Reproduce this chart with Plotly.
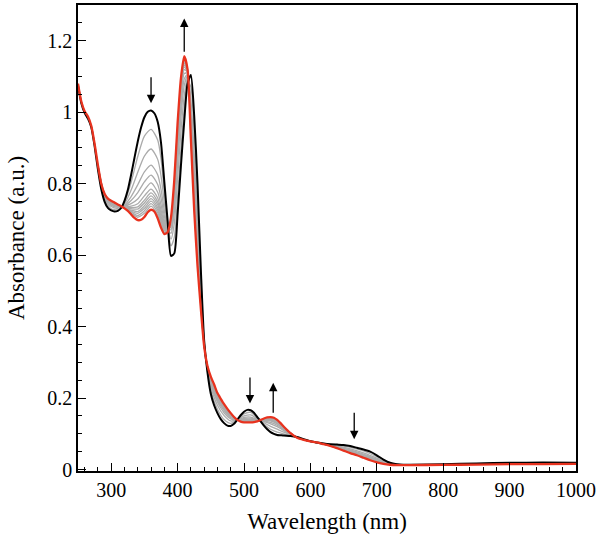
import plotly.graph_objects as go

# ---------------- data ----------------
wavelength = [250, 255, 260, 265, 270, 275, 280, 285, 290, 295, 300, 305, 310, 315, 320, 325, 330, 335, 340, 345,
              350, 355, 360, 365, 370, 375, 380, 385, 390, 395, 400, 405, 410, 415, 420, 425, 430, 435, 440, 445,
              450, 455, 460, 465, 470, 475, 480, 485, 490, 495, 500, 505, 510, 515, 520, 525, 530, 535, 540, 545,
              550, 555, 560, 570, 580, 590, 600, 610, 620, 630, 640, 650, 660, 670, 680, 690, 700, 710, 720, 730,
              740, 750, 800, 850, 900, 950, 1000]

initial_spectrum = [1.075, 1.025, 0.998, 0.982, 0.958, 0.905, 0.840, 0.785, 0.750, 0.732, 0.725, 0.722, 0.724, 0.732,
                    0.752, 0.782, 0.825, 0.872, 0.918, 0.957, 0.986, 1.001, 1.005, 0.997, 0.973, 0.915, 0.805, 0.695,
                    0.598, 0.605, 0.715, 0.850, 0.975, 1.080, 1.104, 0.990, 0.800, 0.560, 0.360, 0.272, 0.212, 0.180,
                    0.158, 0.141, 0.130, 0.123, 0.122, 0.128, 0.140, 0.152, 0.162, 0.167, 0.166, 0.159, 0.147, 0.135,
                    0.123, 0.113, 0.105, 0.100, 0.097, 0.096, 0.095, 0.094, 0.091, 0.085, 0.079, 0.076, 0.073, 0.071,
                    0.070, 0.069, 0.066, 0.061, 0.056, 0.050, 0.040, 0.028, 0.019, 0.015, 0.0135, 0.0135, 0.015,
                    0.017, 0.019, 0.0195, 0.019]

final_spectrum = [1.080, 1.030, 1.003, 0.988, 0.962, 0.912, 0.852, 0.800, 0.772, 0.758, 0.752, 0.747, 0.742, 0.737,
                  0.731, 0.724, 0.714, 0.704, 0.698, 0.699, 0.707, 0.720, 0.727, 0.722, 0.703, 0.677, 0.659, 0.664,
                  0.705, 0.810, 0.970, 1.095, 1.157, 1.120, 0.925, 0.725, 0.570, 0.450, 0.345, 0.290, 0.260, 0.238,
                  0.214, 0.198, 0.183, 0.170, 0.158, 0.147, 0.139, 0.134, 0.132, 0.132, 0.132, 0.133, 0.135, 0.139,
                  0.143, 0.146, 0.147, 0.145, 0.139, 0.130, 0.120, 0.102, 0.089, 0.083, 0.079, 0.076, 0.071, 0.066,
                  0.060, 0.053, 0.046, 0.040, 0.033, 0.026, 0.020, 0.016, 0.0135, 0.0125, 0.0125, 0.0125, 0.013,
                  0.014, 0.015, 0.0155, 0.016]

gray_wavelength = [280, 290, 300, 310, 320, 330, 340, 350, 360, 370, 375, 380, 385, 390, 395, 400, 405, 410, 415, 420,
                   425, 430, 435, 440, 445, 450, 460, 470, 480, 490, 500, 510, 520, 530, 540, 550, 560, 580, 600, 620,
                   640, 660, 680, 700, 720, 740]

gray_1 = [0.842, 0.754, 0.730, 0.727, 0.748, 0.804, 0.876, 0.933, 0.952, 0.922, 0.870, 0.777, 0.689, 0.626, 0.650,
          0.764, 0.897, 1.010, 1.088, 1.070, 0.940, 0.756, 0.539, 0.357, 0.275, 0.221, 0.169, 0.140, 0.129, 0.140,
          0.156, 0.160, 0.145, 0.127, 0.113, 0.105, 0.100, 0.091, 0.079, 0.073, 0.068, 0.062, 0.052, 0.036, 0.018, 0.013]
gray_2 = [0.845, 0.759, 0.736, 0.731, 0.744, 0.782, 0.832, 0.877, 0.897, 0.868, 0.822, 0.748, 0.683, 0.645, 0.689,
          0.815, 0.946, 1.046, 1.096, 1.034, 0.887, 0.710, 0.517, 0.354, 0.279, 0.231, 0.180, 0.151, 0.136, 0.140,
          0.150, 0.153, 0.142, 0.131, 0.121, 0.113, 0.105, 0.090, 0.079, 0.072, 0.066, 0.058, 0.047, 0.032, 0.017, 0.013]
gray_3 = [0.847, 0.762, 0.740, 0.734, 0.740, 0.764, 0.797, 0.833, 0.852, 0.825, 0.784, 0.725, 0.678, 0.661, 0.721,
          0.855, 0.985, 1.075, 1.102, 1.006, 0.844, 0.674, 0.500, 0.352, 0.282, 0.238, 0.189, 0.159, 0.142, 0.139,
          0.146, 0.147, 0.140, 0.134, 0.128, 0.120, 0.109, 0.090, 0.079, 0.072, 0.065, 0.055, 0.043, 0.029, 0.016, 0.013]
gray_4 = [0.848, 0.764, 0.743, 0.736, 0.738, 0.753, 0.775, 0.805, 0.824, 0.798, 0.760, 0.710, 0.675, 0.671, 0.741,
          0.881, 1.009, 1.093, 1.106, 0.988, 0.818, 0.651, 0.489, 0.350, 0.284, 0.243, 0.194, 0.165, 0.145, 0.139,
          0.143, 0.144, 0.139, 0.136, 0.132, 0.124, 0.111, 0.090, 0.079, 0.072, 0.064, 0.053, 0.041, 0.027, 0.015, 0.013]
gray_5 = [0.849, 0.766, 0.745, 0.737, 0.737, 0.744, 0.757, 0.782, 0.802, 0.776, 0.741, 0.698, 0.672, 0.679, 0.757,
          0.901, 1.029, 1.108, 1.109, 0.973, 0.797, 0.632, 0.480, 0.349, 0.285, 0.247, 0.199, 0.169, 0.148, 0.139,
          0.140, 0.141, 0.138, 0.138, 0.136, 0.128, 0.113, 0.090, 0.079, 0.072, 0.063, 0.051, 0.039, 0.025, 0.015, 0.013]
gray_6 = [0.850, 0.767, 0.746, 0.738, 0.735, 0.737, 0.744, 0.766, 0.785, 0.760, 0.727, 0.690, 0.671, 0.684, 0.768,
          0.917, 1.044, 1.119, 1.112, 0.963, 0.781, 0.618, 0.473, 0.348, 0.286, 0.250, 0.202, 0.172, 0.150, 0.139,
          0.138, 0.139, 0.138, 0.139, 0.138, 0.130, 0.115, 0.089, 0.079, 0.071, 0.062, 0.050, 0.038, 0.024, 0.015, 0.013]
gray_7 = [0.850, 0.768, 0.747, 0.739, 0.735, 0.733, 0.735, 0.754, 0.774, 0.749, 0.718, 0.684, 0.669, 0.688, 0.776,
          0.927, 1.053, 1.126, 1.113, 0.955, 0.770, 0.609, 0.469, 0.348, 0.287, 0.252, 0.205, 0.174, 0.152, 0.139,
          0.137, 0.138, 0.137, 0.140, 0.140, 0.132, 0.116, 0.089, 0.079, 0.071, 0.062, 0.049, 0.037, 0.023, 0.014, 0.013]
gray_8 = [0.850, 0.769, 0.748, 0.740, 0.734, 0.730, 0.729, 0.746, 0.766, 0.741, 0.710, 0.679, 0.668, 0.691, 0.782,
          0.934, 1.061, 1.132, 1.114, 0.950, 0.762, 0.602, 0.465, 0.347, 0.288, 0.253, 0.206, 0.176, 0.153, 0.139,
          0.136, 0.137, 0.137, 0.140, 0.141, 0.133, 0.117, 0.089, 0.079, 0.071, 0.061, 0.049, 0.036, 0.023, 0.014, 0.013]
gray_9 = [0.851, 0.770, 0.749, 0.740, 0.733, 0.726, 0.722, 0.738, 0.758, 0.733, 0.703, 0.675, 0.667, 0.694, 0.788,
          0.942, 1.068, 1.137, 1.116, 0.945, 0.754, 0.595, 0.462, 0.347, 0.288, 0.255, 0.208, 0.177, 0.154, 0.139,
          0.135, 0.136, 0.136, 0.141, 0.142, 0.134, 0.117, 0.089, 0.079, 0.071, 0.061, 0.048, 0.036, 0.022, 0.014, 0.013]
gray_10 = [0.851, 0.770, 0.750, 0.741, 0.733, 0.723, 0.717, 0.731, 0.751, 0.726, 0.697, 0.671, 0.667, 0.697, 0.793,
           0.948, 1.074, 1.142, 1.117, 0.940, 0.748, 0.590, 0.459, 0.346, 0.289, 0.256, 0.209, 0.179, 0.155, 0.139,
           0.135, 0.135, 0.136, 0.141, 0.143, 0.135, 0.118, 0.089, 0.079, 0.071, 0.061, 0.048, 0.035, 0.022, 0.014, 0.013]
gray_11 = [0.851, 0.771, 0.750, 0.741, 0.732, 0.721, 0.711, 0.724, 0.744, 0.719, 0.691, 0.668, 0.666, 0.699, 0.798,
           0.955, 1.080, 1.146, 1.118, 0.936, 0.741, 0.584, 0.457, 0.346, 0.289, 0.257, 0.211, 0.180, 0.156, 0.139,
           0.134, 0.134, 0.136, 0.142, 0.145, 0.137, 0.119, 0.089, 0.079, 0.071, 0.061, 0.047, 0.034, 0.021, 0.014, 0.013]
gray_12 = [0.852, 0.771, 0.751, 0.741, 0.732, 0.718, 0.706, 0.717, 0.737, 0.712, 0.685, 0.664, 0.665, 0.702, 0.803,
           0.961, 1.086, 1.151, 1.119, 0.931, 0.734, 0.578, 0.454, 0.345, 0.289, 0.258, 0.212, 0.181, 0.157, 0.139,
           0.133, 0.133, 0.135, 0.142, 0.146, 0.138, 0.119, 0.089, 0.079, 0.071, 0.060, 0.047, 0.034, 0.021, 0.014, 0.013]

# arrows: wavelength, tail absorbance, head absorbance
arrow_wavelength = [360, 410, 509, 544, 666]
arrow_tail = [1.102, 1.165, 0.262, 0.155, 0.163]
arrow_head = [1.025, 1.262, 0.185, 0.243, 0.085]

x_tick_values = [300, 400, 500, 600, 700, 800, 900, 1000]
x_tick_labels = ["300", "400", "500", "600", "700", "800", "900", "1000"]
y_tick_values = [0, 0.2, 0.4, 0.6, 0.8, 1.0, 1.2]
y_tick_labels = ["0", "0.2", "0.4", "0.6", "0.8", "1", "1.2"]

# ---------------- figure ----------------
FONT = "'Liberation Serif', 'Times New Roman', Times, serif"
fig = go.Figure()

gray_series = [gray_1, gray_2, gray_3, gray_4, gray_5, gray_6, gray_7, gray_8, gray_9, gray_10, gray_11, gray_12]
for g in gray_series:
    fig.add_trace(go.Scatter(x=gray_wavelength, y=g, mode="lines",
                             line=dict(color="#ababab", width=1.3, shape="spline", smoothing=0.7),
                             hoverinfo="skip", showlegend=False))

fig.add_trace(go.Scatter(x=wavelength, y=initial_spectrum, mode="lines",
                         line=dict(color="#000000", width=2.0, shape="spline", smoothing=0.6),
                         showlegend=False))
fig.add_trace(go.Scatter(x=wavelength, y=final_spectrum, mode="lines",
                         line=dict(color="#e8321e", width=2.3, shape="spline", smoothing=0.6),
                         showlegend=False))

for xw, yt, yh in zip(arrow_wavelength, arrow_tail, arrow_head):
    fig.add_annotation(x=xw, y=yh, ax=xw, ay=yt, xref="x", yref="y", axref="x", ayref="y",
                       text="", showarrow=True, arrowhead=2, arrowsize=1.3, arrowwidth=1.3,
                       arrowcolor="#000000", standoff=0, startstandoff=0)

axis_common = dict(showline=True, linecolor="#000000", linewidth=1.6, mirror=True,
                   ticks="inside", tickcolor="#000000", tickwidth=1.3, ticklen=8,
                   showgrid=False, zeroline=False, automargin=False,
                   tickfont=dict(family=FONT, size=20, color="#000000"))

fig.update_xaxes(range=[250, 1000], tickmode="array", tickvals=x_tick_values, ticktext=x_tick_labels,
                 minor=dict(ticks="inside", ticklen=4, tickwidth=1.2, tickcolor="#000000", dtick=20, tick0=300),
                 title=dict(text="Wavelength (nm)", font=dict(family=FONT, size=23, color="#000000"), standoff=13),
                 **axis_common)
fig.update_yaxes(range=[-0.004, 1.3], tickmode="array", tickvals=y_tick_values, ticktext=y_tick_labels,
                 minor=dict(ticks="inside", ticklen=4, tickwidth=1.2, tickcolor="#000000", dtick=0.05, tick0=0),
                 title=dict(text="Absorbance (a.u.)", font=dict(family=FONT, size=23, color="#000000"), standoff=16),
                 **axis_common)

fig.update_layout(width=600, height=539, margin=dict(l=78, r=24, t=5, b=68),
                  paper_bgcolor="white", plot_bgcolor="white", showlegend=False,
                  font=dict(family=FONT, color="#000000"))

fig.write_html("out.html", config={"displayModeBar": False},
               post_script="document.body.style.margin='0px';")
